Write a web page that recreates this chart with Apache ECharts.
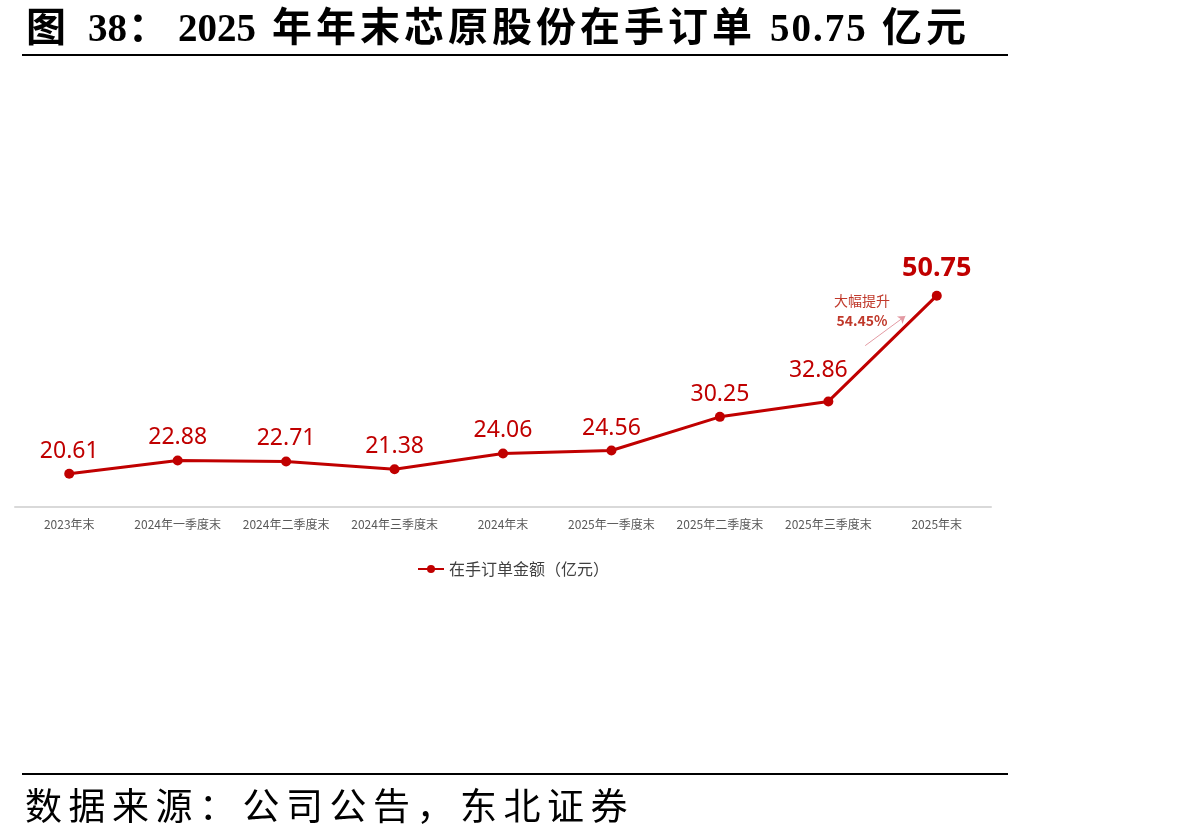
<!DOCTYPE html>
<html>
<head>
<meta charset="utf-8">
<script src="https://cdn.jsdelivr.net/npm/echarts@6/dist/echarts.min.js"></script>
<style>
  html, body { margin: 0; padding: 0; background: #fff; }
  #page { position: relative; width: 1198px; height: 839px; overflow: hidden; }
  .t { position: absolute; top: 6px; font-family: "Liberation Serif", "Noto Sans CJK SC", serif; font-weight: bold; font-size: 40px; color: #000; white-space: nowrap; line-height: 44px; }
  .num { font-size: 39px; }
  #rule1 { position: absolute; left: 22px; top: 54px; width: 986px; height: 2px; background: #000; }
  #rule2 { position: absolute; left: 22px; top: 773px; width: 986px; height: 2px; background: #000; }
  #src { position: absolute; left: 25px; top: 782px; font-family: "Noto Sans CJK SC", sans-serif; font-size: 37px; letter-spacing: 6.5px; line-height: 44px; color: #000; white-space: nowrap; }
  #chart { position: absolute; left: 0; top: 0; width: 1198px; height: 839px; }
</style>
</head>
<body>
<div id="page">
  <div id="chart"></div>
  <span class="t" style="left:26px">图</span>
  <span class="t num" style="left:88px">38</span>
  <span class="t" style="left:128px">：</span>
  <span class="t num" style="left:178px">2025</span>
  <span class="t" style="left:272px; letter-spacing:4px">年年末芯原股份在手订单</span>
  <span class="t num" style="left:770px; letter-spacing:2px">50.75</span>
  <span class="t" style="left:882px; letter-spacing:4px">亿元</span>
  <div id="rule1"></div>
  <div id="rule2"></div>
  <div id="src">数据来源：公司公告，东北证券</div>
</div>
<script>
const categories = ["2023年末", "2024年一季度末", "2024年二季度末", "2024年三季度末", "2024年末",
  "2025年一季度末", "2025年二季度末", "2025年三季度末", "2025年末"]
const backlog = [20.61, 22.88, 22.71, 21.38, 24.06, 24.56, 30.25, 32.86, 50.75]
const seriesName = "在手订单金额（亿元）"
const growthText = "大幅提升"
const growthPct = "54.45%"

const red = "#C00000"
const chart = echarts.init(document.getElementById("chart"))
const lastIdx = backlog.length - 1

function pointData(v, i) {
  if (i === lastIdx) {
    return { value: v, label: { fontSize: 27, fontWeight: "bold", distance: 9 } }
  }
  if (i === lastIdx - 1) {
    // label nudged up-left so it clears the steep segment
    return { value: v, label: { offset: [-10, -8] } }
  }
  return v
}

chart.setOption({
  animation: false,
  legend: {
    data: [seriesName],
    top: 556,
    left: 412,
    itemWidth: 26,
    itemHeight: 10,
    itemGap: 4,
    textStyle: { fontFamily: "Noto Sans CJK SC", fontSize: 16, color: "#404040" },
  },
  grid: {
    left: 15,
    right: 207,
    top: 241,
    bottom: 332,
  },
  xAxis: [
    {
      type: "category",
      data: categories,
      boundaryGap: true,
      axisLine: { lineStyle: { color: "#D9D9D9", width: 2 } },
      axisTick: { show: false },
      axisLabel: { color: "#595959", fontSize: 12, fontFamily: "Noto Sans CJK SC", margin: 11, interval: 0 },
    },
    // hidden helper axis so the note can sit between two categories
    { type: "value", min: -0.5, max: categories.length - 0.5, show: false },
  ],
  yAxis: {
    type: "value",
    min: 15,
    max: 60,
    show: false,
    splitLine: { show: false },
  },
  series: [
    {
      name: seriesName,
      type: "line",
      data: backlog.map(pointData),
      symbol: "circle",
      symbolSize: 10,
      itemStyle: { color: red },
      lineStyle: { color: red, width: 3 },
      label: {
        show: true,
        position: "top",
        distance: 6,
        color: red,
        fontSize: 23,
        fontFamily: "Noto Sans",
        formatter: (p) => p.value.toFixed(2),
      },
    },
    {
      type: "line",
      xAxisIndex: 1,
      data: [],
      silent: true,
      markLine: {
        silent: true,
        symbol: ["none", "arrow"],
        symbolSize: 7,
        label: { show: false },
        lineStyle: { color: "#E39AA3", width: 1, type: "solid" },
        data: [[{ coord: [7.34, 42.3] }, { coord: [7.71, 47.3] }]],
      },
      markPoint: {
        silent: true,
        symbol: "circle",
        symbolSize: 0,
        data: [{ coord: [7.31, 48.2] }],
        label: {
          show: true,
          formatter: growthText + "\n{b|" + growthPct + "}",
          color: "#C0392B",
          fontSize: 14,
          fontFamily: "Noto Sans CJK SC",
          lineHeight: 20,
          align: "center",
          rich: { b: { fontWeight: "bold", fontSize: 14, color: "#C0392B", fontFamily: "Noto Sans CJK SC" } },
        },
      },
    },
  ],
})
</script>
</body>
</html>
